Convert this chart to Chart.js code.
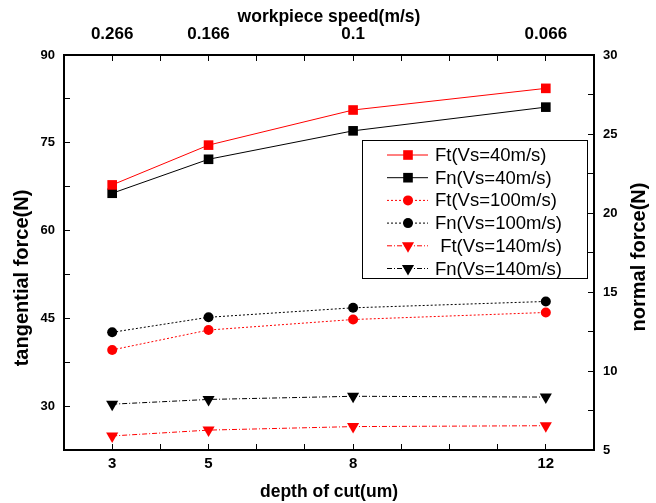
<!DOCTYPE html>
<html>
<head>
<meta charset="utf-8">
<script src="https://cdn.jsdelivr.net/npm/chart.js@4"></script>
<style>
  body { margin: 0; background: #fff; }
  #wrap { width: 656px; height: 503px; }
</style>
</head>
<body>
<div id="wrap"><canvas id="forces" width="656" height="503"></canvas></div>
<script>
// depth of cut (um) and matching workpiece speed labels (m/s)
const depthOfCut = [3, 5, 8, 12];
const speedLabels = ['0.266', '0.166', '0.1', '0.066'];

// tangential force (left axis, N)
const ft40 = [67.8, 74.6, 80.6, 84.3];
const ft100 = [39.6, 43.0, 44.8, 46.0];
const ft140 = [24.9, 25.9, 26.5, 26.65];

// normal force (right axis, N)
const fn40 = [21.25, 23.4, 25.2, 26.7];
const fn100 = [12.45, 13.4, 14.0, 14.4];
const fn140 = [7.9, 8.2, 8.4, 8.35];

const leftLabels = [30, 45, 60, 75, 90];
const rightLabels = [5, 10, 15, 20, 25, 30];

const RED = '#ff0000';
const BLACK = '#000000';
const DOT = [2, 2];
const DASHDOT = [5, 2, 1, 2];
const FAMILY = '"Liberation Sans", Arial, sans-serif';

function pts(vals) {
  return vals.map((v, i) => ({ x: depthOfCut[i], y: v }));
}

function series(label, vals, color, axis, style, radius, dash) {
  return {
    label: label,
    data: pts(vals),
    yAxisID: axis,
    borderColor: color,
    backgroundColor: color,
    borderWidth: 1,
    borderDash: dash,
    pointStyle: style,
    pointRadius: radius,
    pointHoverRadius: radius,
    pointRotation: style === 'triangle' ? 180 : 0,
    pointBorderWidth: 0,
    tension: 0
  };
}

// legend drawn inside the plot, plus the two side titles (both read bottom-up)
const boxLegend = {
  id: 'boxLegend',
  afterDatasetsDraw(chart) {
    const ctx = chart.ctx;
    const x0 = 362, y0 = 140, w = 225, h = 138;
    ctx.save();
    ctx.fillStyle = '#fff';
    ctx.fillRect(x0, y0, w, h);
    ctx.strokeStyle = '#000';
    ctx.lineWidth = 1;
    ctx.strokeRect(x0 + 0.5, y0 + 0.5, w, h);
    chart.data.datasets.forEach((ds, i) => {
      const y = 155 + i * 22.7;
      ctx.beginPath();
      ctx.setLineDash(ds.borderDash || []);
      ctx.strokeStyle = ds.borderColor;
      ctx.lineWidth = 1;
      ctx.moveTo(387, y);
      ctx.lineTo(428, y);
      ctx.stroke();
      ctx.setLineDash([]);
      ctx.fillStyle = ds.backgroundColor;
      const r = ds.pointRadius;
      ctx.beginPath();
      if (ds.pointStyle === 'rect') {
        const s = r * Math.SQRT1_2;
        ctx.rect(408 - s, y - s, 2 * s, 2 * s);
      } else if (ds.pointStyle === 'circle') {
        ctx.arc(408, y, r, 0, Math.PI * 2);
      } else {
        ctx.moveTo(408, y + r);
        ctx.lineTo(408 - r * 0.866, y - r * 0.5);
        ctx.lineTo(408 + r * 0.866, y - r * 0.5);
        ctx.closePath();
      }
      ctx.fill();
      ctx.fillStyle = '#000';
      ctx.font = '18.5px ' + FAMILY;
      ctx.textBaseline = 'middle';
      ctx.textAlign = 'left';
      ctx.fillText(ds.label, 435, y + 1);
    });

    ctx.font = 'bold 20px ' + FAMILY;
    ctx.textAlign = 'center';
    ctx.textBaseline = 'middle';
    ctx.fillStyle = '#000';
    [['tangential force(N)', 22, 278], ['normal force(N)', 639, 257]].forEach(([t, x, y]) => {
      ctx.save();
      ctx.translate(x, y);
      ctx.rotate(-Math.PI / 2);
      ctx.fillText(t, 0, 0);
      ctx.restore();
    });
    ctx.restore();
  }
};

const tickFont = (size) => ({ family: FAMILY, size: size, weight: 'bold' });
const gridOpts = { drawOnChartArea: false, tickLength: -6, color: '#000', tickWidth: 1 };
const borderOpts = { color: '#000', width: 2 };

const ctx = document.getElementById('forces');

new Chart(ctx, {
  type: 'line',
  data: {
    datasets: [
      series('Ft(Vs=40m/s)', ft40, RED, 'y', 'rect', 6.8, []),
      series('Fn(Vs=40m/s)', fn40, BLACK, 'y1', 'rect', 6.8, []),
      series('Ft(Vs=100m/s)', ft100, RED, 'y', 'circle', 5, DOT),
      series('Fn(Vs=100m/s)', fn100, BLACK, 'y1', 'circle', 5, DOT),
      series(' Ft(Vs=140m/s)', ft140, RED, 'y', 'triangle', 7, DASHDOT),
      series('Fn(Vs=140m/s)', fn140, BLACK, 'y1', 'triangle', 7, DASHDOT)
    ]
  },
  options: {
    responsive: false,
    animation: false,
    layout: { padding: 0 },
    plugins: {
      legend: { display: false },
      tooltip: { enabled: false }
    },
    scales: {
      x: {
        type: 'linear',
        position: 'bottom',
        min: 2,
        max: 13,
        grid: gridOpts,
        border: borderOpts,
        ticks: {
          stepSize: 1,
          autoSkip: false,
          maxRotation: 0,
          padding: 11,
          color: '#000',
          font: tickFont(15),
          callback: (v) => depthOfCut.includes(v) ? String(v) : ''
        },
        title: {
          display: true,
          text: 'depth of cut(um)',
          color: '#000',
          font: tickFont(17.5),
          padding: { top: 0, bottom: 0.5 }
        },
        afterFit: (s) => { s.height = 53; }
      },
      x2: {
        type: 'linear',
        position: 'top',
        min: 2,
        max: 13,
        grid: gridOpts,
        border: borderOpts,
        ticks: {
          stepSize: 1,
          autoSkip: false,
          maxRotation: 0,
          padding: 16,
          color: '#000',
          font: tickFont(17),
          callback: (v) => {
            const i = depthOfCut.indexOf(v);
            return i >= 0 ? speedLabels[i] : '';
          }
        },
        title: {
          display: true,
          text: 'workpiece speed(m/s)',
          color: '#000',
          font: tickFont(17.5),
          padding: { top: 7, bottom: 0 }
        },
        afterFit: (s) => { s.height = 55; }
      },
      y: {
        type: 'linear',
        position: 'left',
        min: 22.5,
        max: 90,
        grid: gridOpts,
        border: borderOpts,
        ticks: {
          stepSize: 7.5,
          autoSkip: false,
          padding: 15,
          color: '#000',
          font: tickFont(13),
          callback: (v) => leftLabels.includes(v) ? String(v) : ''
        },
        afterFit: (s) => { s.width = 64; }
      },
      y1: {
        type: 'linear',
        position: 'right',
        min: 5,
        max: 30,
        grid: gridOpts,
        border: borderOpts,
        ticks: {
          stepSize: 2.5,
          autoSkip: false,
          padding: 15,
          color: '#000',
          font: tickFont(13),
          callback: (v) => rightLabels.includes(v) ? String(v) : ''
        },
        afterFit: (s) => { s.width = 62; }
      }
    }
  },
  plugins: [boxLegend]
});
</script>
</body>
</html>
